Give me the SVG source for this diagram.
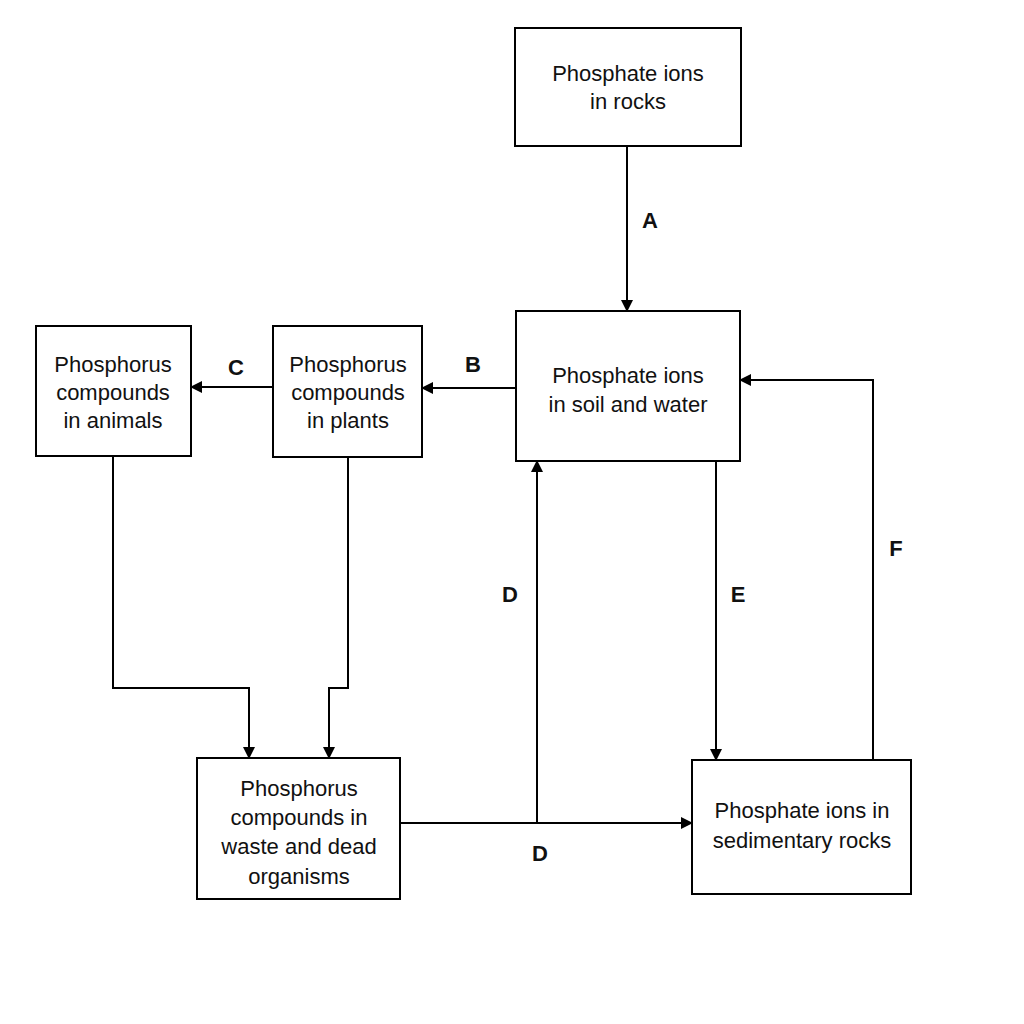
<svg xmlns="http://www.w3.org/2000/svg" width="1024" height="1024" viewBox="0 0 1024 1024">
<style>
.box{fill:#fff;stroke:#000;stroke-width:2}
.t{font-family:"Liberation Sans",Arial,sans-serif;font-size:22px;text-anchor:middle;fill:#111}
.l{font-family:"Liberation Sans",Arial,sans-serif;font-size:22px;font-weight:bold;text-anchor:middle;fill:#111}
.c{fill:none;stroke:#000;stroke-width:2;marker-end:url(#ah)}
</style>
<defs><marker id="ah" markerWidth="12" markerHeight="12" refX="11" refY="6" orient="auto" markerUnits="userSpaceOnUse"><path d="M0,0 L12,6 L0,12 z" fill="#000"/></marker></defs>
<rect width="1024" height="1024" fill="#fff"/>
<g id="connectors">
<path class="c" d="M627,146 V311"/>
<path class="c" d="M516,388 H422"/>
<path class="c" d="M273,387 H191"/>
<path class="c" d="M113,456 V688 H249 V758"/>
<path class="c" d="M348,457 V688 H329 V758"/>
<path class="c" d="M400,823 H692"/>
<path class="c" d="M537,823 V461"/>
<path class="c" d="M716,461 V760"/>
<path class="c" d="M873,760 V380 H740"/>
<text class="l" x="650" y="228">A</text>
<text class="l" x="473" y="372">B</text>
<text class="l" x="236" y="375">C</text>
<text class="l" x="510" y="602">D</text>
<text class="l" x="540" y="861">D</text>
<text class="l" x="738" y="602">E</text>
<text class="l" x="896" y="556">F</text>
</g>
<g id="rocks"><rect class="box" x="515" y="28" width="226" height="118"/><text class="t" x="628" y="81">Phosphate ions</text><text class="t" x="628" y="109">in rocks</text></g>
<g id="soil"><rect class="box" x="516" y="311" width="224" height="150"/><text class="t" x="628" y="383">Phosphate ions</text><text class="t" x="628" y="412">in soil and water</text></g>
<g id="plants"><rect class="box" x="273" y="326" width="149" height="131"/><text class="t" x="348" y="372">Phosphorus</text><text class="t" x="348" y="400">compounds</text><text class="t" x="348" y="428">in plants</text></g>
<g id="animals"><rect class="box" x="36" y="326" width="155" height="130"/><text class="t" x="113" y="372">Phosphorus</text><text class="t" x="113" y="400">compounds</text><text class="t" x="113" y="428">in animals</text></g>
<g id="waste"><rect class="box" x="197" y="758" width="203" height="141"/><text class="t" x="299" y="796">Phosphorus</text><text class="t" x="299" y="825">compounds in</text><text class="t" x="299" y="854">waste and dead</text><text class="t" x="299" y="884">organisms</text></g>
<g id="sediment"><rect class="box" x="692" y="760" width="219" height="134"/><text class="t" x="802" y="818">Phosphate ions in</text><text class="t" x="802" y="848">sedimentary rocks</text></g>
</svg>
